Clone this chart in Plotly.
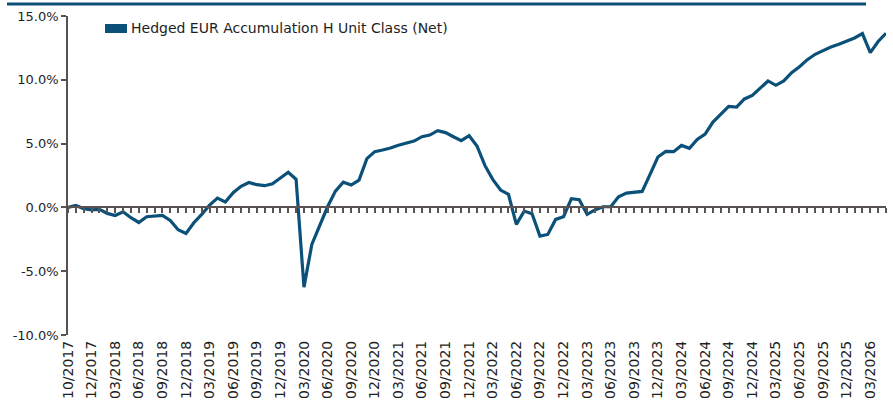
import plotly.graph_objects as go

series_name = "Hedged EUR Accumulation H Unit Class (Net)"

# cumulative performance (%), first point = inception, then month ends 10/2017 .. 05/2026
values = [
    0.0, 0.15, -0.1, -0.2, -0.15, -0.47, -0.63, -0.34, -0.81, -1.18,
    -0.73, -0.68, -0.63, -1.02, -1.75, -2.04, -1.2, -0.55, 0.18, 0.73,
    0.42, 1.15, 1.65, 1.95, 1.78, 1.7, 1.85, 2.3, 2.75, 2.2,
    -6.25, -2.9, -1.41, 0.05, 1.28, 1.98, 1.75, 2.14, 3.82, 4.37,
    4.5, 4.65, 4.87, 5.03, 5.2, 5.54, 5.67, 6.01, 5.86, 5.54,
    5.23, 5.62, 4.81, 3.29, 2.2, 1.36, 1.02, -1.33, -0.29, -0.5,
    -2.25, -2.12, -0.94, -0.73, 0.68, 0.6, -0.55, -0.2, 0.05, 0.05,
    0.84, 1.12, 1.18, 1.25, 2.59, 3.95, 4.39, 4.37, 4.86, 4.63,
    5.33, 5.75, 6.69, 7.35, 7.92, 7.86, 8.5, 8.78, 9.31, 9.91,
    9.57, 9.91, 10.56, 11.03, 11.58, 12.0, 12.29, 12.57, 12.78, 13.0,
    13.28, 13.62, 12.13, 13.0, 13.65,
]
positions = list(range(len(values)))

tick_labels = [
    "10/2017", "12/2017",
    "03/2018", "06/2018", "09/2018", "12/2018",
    "03/2019", "06/2019", "09/2019", "12/2019",
    "03/2020", "06/2020", "09/2020", "12/2020",
    "03/2021", "06/2021", "09/2021", "12/2021",
    "03/2022", "06/2022", "09/2022", "12/2022",
    "03/2023", "06/2023", "09/2023", "12/2023",
    "03/2024", "06/2024", "09/2024", "12/2024",
    "03/2025", "06/2025", "09/2025", "12/2025",
    "03/2026",
]
tick_positions = list(range(0, 3 * len(tick_labels), 3))

y_ticks = [-10, -5, 0, 5, 10, 15]
y_tick_labels = ["-10.0%", "-5.0%", "0.0%", "5.0%", "10.0%", "15.0%"]

BLUE = "#0b5079"
AXIS = "#5a5250"
TEXT = "#1e1e1e"
FONT = "DejaVu Sans"

fig = go.Figure()
fig.add_trace(go.Scatter(
    x=positions, y=values, mode="lines", name=series_name,
    line=dict(color=BLUE, width=3.2), showlegend=False, hoverinfo="skip",
    cliponaxis=False,
))
# invisible helper trace so the zero-line axis is rendered
fig.add_trace(go.Scatter(
    x=[positions[0], positions[-1]], y=[0, 0], xaxis="x2", mode="lines",
    line=dict(color="rgba(0,0,0,0)", width=0), showlegend=False, hoverinfo="skip",
))

n_last = positions[-1]
fig.update_layout(
    width=893, height=405,
    margin=dict(l=68, r=7, t=16, b=70, autoexpand=False),
    paper_bgcolor="white", plot_bgcolor="white",
    font=dict(family=FONT, size=12, color=TEXT),
    xaxis=dict(
        range=[0, n_last], showline=False, showgrid=False, zeroline=False,
        tickmode="array", tickvals=tick_positions, ticktext=tick_labels,
        tickangle=-90, ticks="", tickfont=dict(family=FONT, size=14, color=TEXT),
        ticklabelstandoff=2, automargin=False,
    ),
    xaxis2=dict(
        range=[0, n_last], overlaying="x", anchor="free", position=0.4,
        showline=True, linecolor=AXIS, linewidth=2,
        ticks="outside", ticklen=5, tickwidth=2, tickcolor=AXIS,
        tickmode="linear", tick0=0, dtick=1,
        showticklabels=False, showgrid=False, zeroline=False, automargin=False,
    ),
    yaxis=dict(
        range=[-10, 15], tickmode="array", tickvals=y_ticks, ticktext=y_tick_labels,
        showline=True, linecolor=AXIS, linewidth=1.5,
        ticks="outside", ticklen=5, tickcolor=AXIS, tickwidth=1.5,
        showgrid=False, zeroline=False, automargin=False,
        tickfont=dict(family=FONT, size=13, color=TEXT),
    ),
    shapes=[
        dict(type="line", xref="paper", yref="paper",
             x0=-0.0746, x1=0.9756, y0=1.0376, y1=1.0376,
             line=dict(color=BLUE, width=3)),
        dict(type="rect", xref="paper", yref="paper",
             x0=0.0452, x1=0.0721, y0=0.9467, y1=0.975,
             fillcolor=BLUE, line=dict(width=0)),
    ],
    annotations=[
        dict(text=series_name, xref="paper", yref="paper", x=0.075, y=0.961,
             xanchor="left", yanchor="middle", showarrow=False,
             font=dict(family=FONT, size=14, color=TEXT)),
    ],
)

fig.write_html(
    "out.html",
    config={"displayModeBar": False},
    post_script="document.body.style.margin='0';document.body.style.padding='0';",
)
